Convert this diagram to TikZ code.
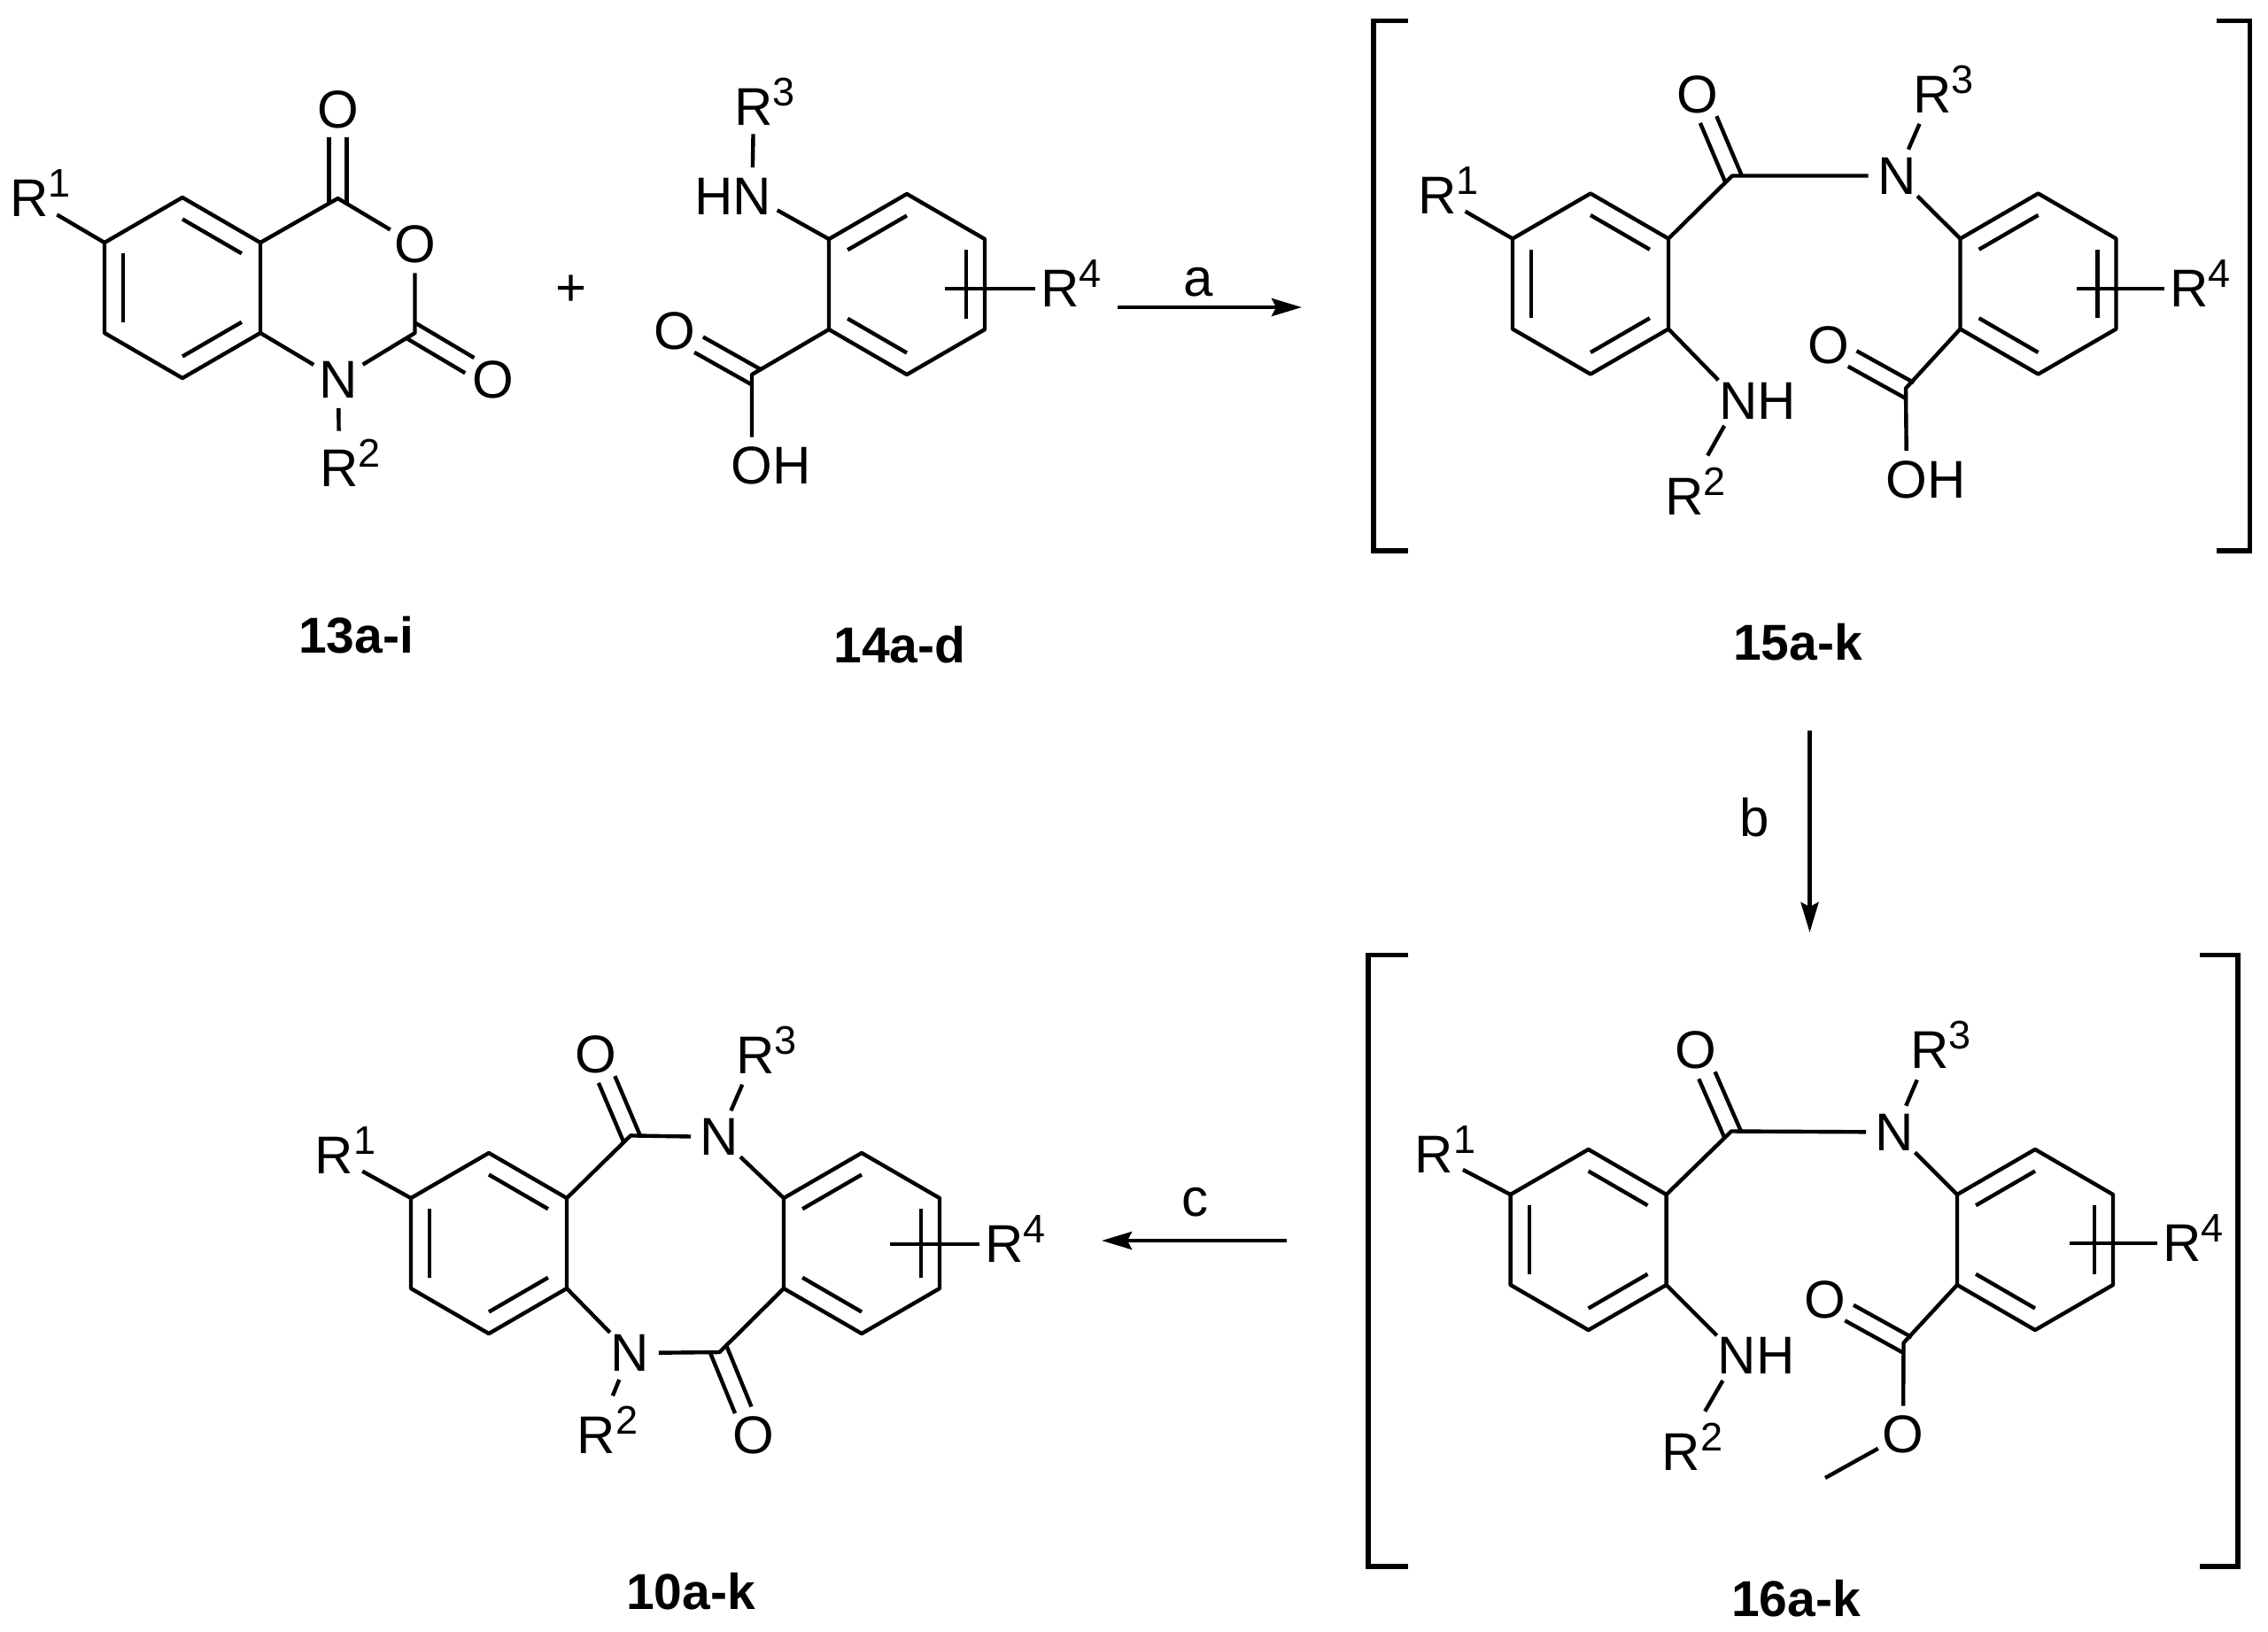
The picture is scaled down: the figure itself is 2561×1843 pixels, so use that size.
\documentclass[tikz,border=0pt]{standalone}
\usepackage{fontspec}
\setmainfont{Liberation Sans}
\usetikzlibrary{calc,arrows.meta}
\newcommand{\supR}[1]{R\rlap{\smash{\raisebox{11pt}{\fontsize{22.5}{24}\selectfont #1}}}}
\tikzset{
  bond/.style={line width=2.2pt,line join=round,line cap=butt},
  brack/.style={line width=2.6pt,line join=miter},
  rxn/.style={line width=2.2pt,-{Stealth[length=17pt,width=10pt,inset=2.5pt]}},
  txt/.style={inner sep=0pt,font=\fontsize{30}{32}\selectfont},
  atom/.style={circle,inner sep=0pt,minimum size=32pt,font=\fontsize{30}{32}\selectfont},
  rgroup/.style={circle,inner sep=0pt,minimum size=36pt,font=\fontsize{30}{32}\selectfont},
  lbl/.style={inner sep=0pt,font=\fontsize{28.5}{31}\selectfont\bfseries},
}
\newcommand{\hexring}[3]{%
  \begin{scope}[shift={(#2,#3)}]
    \coordinate (#1c) at (0,0);
    \coordinate (#1t) at (0,-102);
    \coordinate (#1ur) at (88,-51);
    \coordinate (#1lr) at (88,51);
    \coordinate (#1b) at (0,102);
    \coordinate (#1ll) at (-88,51);
    \coordinate (#1ul) at (-88,-51);
  \end{scope}
  \draw[bond] (#1t) -- (#1ur) -- (#1lr) -- (#1b) -- (#1ll) -- (#1ul) -- cycle;}
\newcommand{\innerb}[3]{\draw[bond] ($(#1c)!.76!(#1#2)$) -- ($(#1c)!.76!(#1#3)$);}
\newcommand{\dblb}[2]{%
  \draw[bond,shorten <=-2.5pt,shorten >=15.5pt] ($(#1)!5pt!90:(#2.center)$) -- ($(#2.center)!5pt!-90:(#1)$);
  \draw[bond,shorten <=-2.5pt,shorten >=15.5pt] ($(#1)!5pt!-90:(#2.center)$) -- ($(#2.center)!5pt!90:(#1)$);}
\begin{document}
\begin{tikzpicture}[x=0.5pt,y=-0.5pt]
\useasboundingbox (0,0) rectangle (2561,1843);

% ---------- 13
\hexring{A}{206}{325}
\innerb{A}{ul}{ll}\innerb{A}{t}{ur}\innerb{A}{lr}{b}
\coordinate (c4) at (381.5,224);
\coordinate (c2) at (468.5,376);
\node[atom] (o4) at (381.5,124) {O};
\node[atom] (o1) at (468.5,276) {O};
\node[atom] (o2) at (557,428.5) {O};
\node[atom] (n13) at (382,428.5) {N};
\node[rgroup] (r213) at (383,529) {\supR{2}};
\node[rgroup] (r113) at (33,224) {\supR{1}};
\draw[bond] (Aur) -- (c4) -- (o1);
\draw[bond] (o1) -- (c2) -- (n13);
\draw[bond] (n13) -- (Alr);
\draw[bond,shorten >=3pt] (n13) -- (r213);
\draw[bond] (r113) -- (Aul);
\dblb{c4}{o4}
\dblb{c2}{o2}
\node[txt] (plus) at (645,328) {+};
\node[lbl] (l13) at (402,717) {13a-i};

% ---------- 14
\hexring{B}{1024}{321}
\innerb{B}{ul}{t}\innerb{B}{ll}{b}\innerb{B}{ur}{lr}
\node[atom] (n14) at (849.4,221.5) {\llap{H}N};
\node[rgroup] (r314) at (851,121) {\supR{3}};
\coordinate (c14) at (849,423);
\node[atom] (oh14) at (849,526) {O\rlap{H}};
\node[atom] (o14) at (762,374) {O};
\node[rgroup] (r414) at (1197,326) {\supR{4}};
\coordinate (s14) at (1067,326);
\draw[bond] (n14) -- (Bul);
\draw[bond,shorten >=-3pt] (n14) -- (r314);
\draw[bond] (Bll) -- (c14) -- (oh14);
\dblb{c14}{o14}
\draw[bond,shorten >=-4pt] (s14) -- (r414);
\node[lbl] (l14) at (1016,728) {14a-d};

% arrow a
\coordinate (a1) at (1262,347);
\coordinate (a2) at (1470,347);
\draw[rxn] (a1) -- (a2);
\node[txt] (la) at (1353,319) {a};

% ---------- 15
\draw[brack] (1590,23.5) -- (1551,23.5) -- (1551,622) -- (1590,622);
\draw[brack] (2503,23.5) -- (2540.6,23.5) -- (2540.6,622) -- (2503,622);
\hexring{C}{1796}{320.5}
\innerb{C}{ul}{ll}\innerb{C}{t}{ur}\innerb{C}{lr}{b}
\hexring{D}{2301.5}{320.5}
\innerb{D}{ul}{t}\innerb{D}{ll}{b}\innerb{D}{ur}{lr}
\coordinate (c15a) at (1956,198.5);
\node[atom] (o15a) at (1917,106.5) {O};
\node[atom] (n15a) at (2142,198.5) {N};
\node[rgroup] (r315) at (2182,106.5) {\supR{3}};
\node[rgroup] (r115) at (1623,220.5) {\supR{1}};
\node[atom] (n15b) at (1963,452.5) {N\rlap{H}};
\node[rgroup] (r215) at (1902,561) {\supR{2}};
\coordinate (c15b) at (2152,438.5);
\node[atom] (o15b) at (2064.5,390) {O};
\node[atom] (oh15) at (2153,541.5) {O\rlap{H}};
\node[rgroup] (r415) at (2472,326) {\supR{4}};
\coordinate (s15) at (2345,326);
\draw[bond] (Cur) -- (c15a) -- (n15a);
\draw[bond] (n15a) -- (Dul);
\draw[bond] (n15a) -- (r315);
\draw[bond] (r115) -- (Cul);
\draw[bond] (Clr) -- (n15b);
\draw[bond,shorten >=8.5pt] (n15b) -- (r215);
\draw[bond] (Dll) -- (c15b) -- (oh15);
\dblb{c15a}{o15a}
\dblb{c15b}{o15b}
\draw[bond,shorten >=-4pt] (s15) -- (r415);
\node[lbl] (l15) at (2030,725) {15a-k};

% arrow b
\coordinate (b1) at (2043.5,825);
\coordinate (b2) at (2043.5,1053);
\draw[rxn] (b1) -- (b2);
\node[txt] (lb) at (1981,923) {b};

% ---------- 16
\draw[brack] (1590,1078.5) -- (1545,1078.5) -- (1545,1769) -- (1590,1769);
\draw[brack] (2484,1078.5) -- (2527,1078.5) -- (2527,1769) -- (2484,1769);
\hexring{E}{1793.6}{1400}
\innerb{E}{ul}{ll}\innerb{E}{t}{ur}\innerb{E}{lr}{b}
\hexring{F}{2298}{1400}
\innerb{F}{ul}{t}\innerb{F}{ll}{b}\innerb{F}{ur}{lr}
\coordinate (c16a) at (1955,1277.5);
\node[atom] (o16a) at (1915,1186) {O};
\node[atom] (n16a) at (2139.5,1278.5) {N};
\node[rgroup] (r316) at (2179,1186) {\supR{3}};
\node[rgroup] (r116) at (1619.6,1304) {\supR{1}};
\node[atom] (n16b) at (1961.6,1531) {N\rlap{H}};
\node[rgroup] (r216) at (1898.5,1640) {\supR{2}};
\coordinate (c16b) at (2149.5,1516.5);
\node[atom] (o16b) at (2061,1467.5) {O};
\node[atom] (o16c) at (2149,1620) {O};
\coordinate (me16) at (2061,1669);
\node[rgroup] (r416) at (2464,1404) {\supR{4}};
\coordinate (s16) at (2337,1404);
\draw[bond] (Eur) -- (c16a) -- (n16a);
\draw[bond] (n16a) -- (Ful);
\draw[bond] (n16a) -- (r316);
\draw[bond] (r116) -- (Eul);
\draw[bond] (Elr) -- (n16b);
\draw[bond,shorten >=8.5pt] (n16b) -- (r216);
\draw[bond] (Fll) -- (c16b) -- (o16c);
\draw[bond] (o16c) -- (me16);
\dblb{c16a}{o16a}
\dblb{c16b}{o16b}
\draw[bond,shorten >=-4pt] (s16) -- (r416);
\node[lbl] (l16) at (2028,1805) {16a-k};

% arrow c
\coordinate (c1) at (1453,1401);
\coordinate (c9) at (1244,1401);
\draw[rxn] (c1) -- (c9);
\node[txt] (lc) at (1349,1358) {c};

% ---------- 10
\hexring{G}{552}{1404}
\innerb{G}{ul}{ll}\innerb{G}{t}{ur}\innerb{G}{lr}{b}
\hexring{H}{973}{1404}
\innerb{H}{ul}{t}\innerb{H}{ll}{b}\innerb{H}{ur}{lr}
\coordinate (c10a) at (712,1282.4);
\node[atom] (o10a) at (673,1190.5) {O};
\node[atom] (n10a) at (812.5,1284) {N};
\node[rgroup] (r310) at (852.7,1191.4) {\supR{3}};
\node[rgroup] (r110) at (377.4,1305) {\supR{1}};
\coordinate (c10b) at (812.5,1527);
\node[atom] (n10b) at (711.5,1528) {N};
\node[atom] (o10b) at (851,1621) {O};
\node[rgroup] (r210) at (673.6,1621) {\supR{2}};
\node[rgroup] (r410) at (1134,1405) {\supR{4}};
\coordinate (s10) at (1005,1405);
\draw[bond] (Gur) -- (c10a) -- (n10a);
\draw[bond] (n10a) -- (Hul);
\draw[bond] (n10a) -- (r310);
\draw[bond] (r110) -- (Gul);
\draw[bond] (Glr) -- (n10b);
\draw[bond] (n10b) -- (c10b) -- (Hll);
\draw[bond,shorten >=6pt] (n10b) -- (r210);
\dblb{c10a}{o10a}
\dblb{c10b}{o10b}
\draw[bond,shorten >=-4pt] (s10) -- (r410);
\node[lbl] (l10) at (780,1797) {10a-k};
\end{tikzpicture}
\end{document}
